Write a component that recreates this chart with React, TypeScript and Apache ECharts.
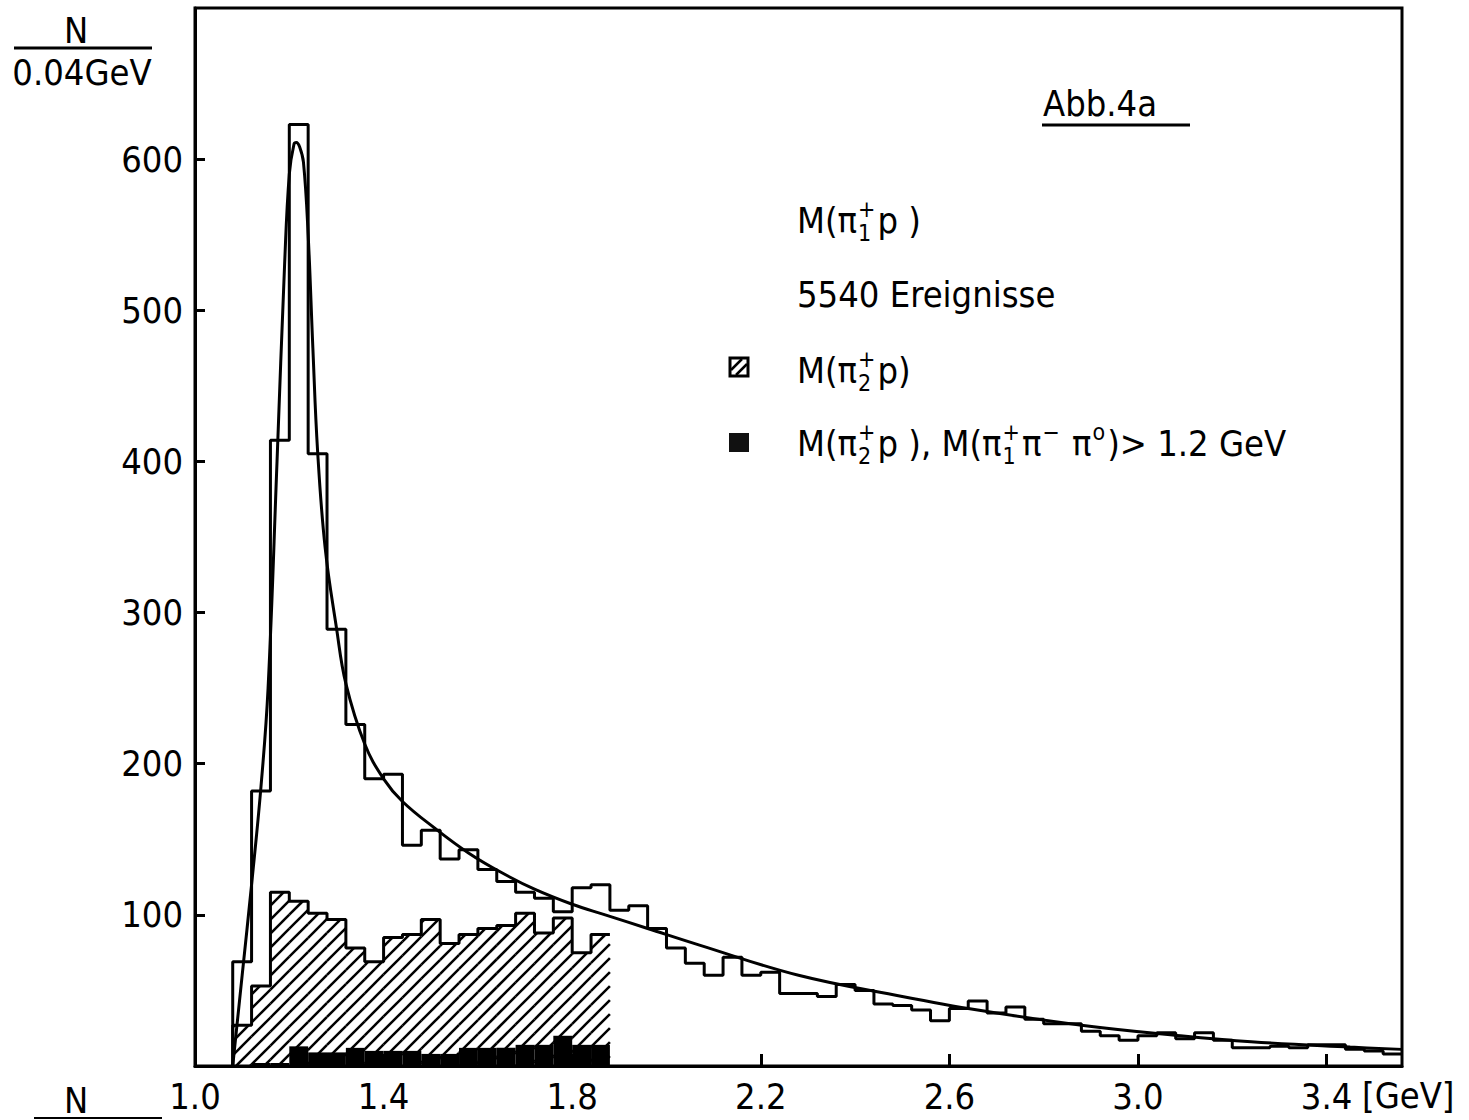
import React, { useEffect, useRef } from "react";
import * as echarts from "echarts";

// ---------- data ----------
const BIN_START = 1.08; // GeV
const BIN_WIDTH = 0.04; // GeV

// M(pi1+ p), all events, 1.08 .. 3.56 GeV
const totalCounts = [
  69, 182, 414, 623, 405, 289, 226, 190, 193, 146,
  156, 137, 143, 130, 122, 115, 111, 102, 118, 120,
  103, 106, 91, 78, 68, 60, 72, 60, 62, 48,
  48, 46, 54, 50, 41, 40, 37, 30, 38, 43,
  35, 39, 31, 28, 28, 23, 20, 17, 20, 22,
  18, 22, 17, 12, 12, 13, 12, 14, 14, 11,
  10, 8,
];

// M(pi2+ p), hatched, 1.08 .. 1.88 GeV
const hatchedCounts = [
  27, 53, 115, 109, 101, 97, 78, 69, 85, 87,
  97, 81, 87, 91, 93, 101, 88, 98, 75, 87,
];

// M(pi2+ p), M(pi1+ pi- pi0) > 1.2 GeV, black, 1.08 .. 1.88 GeV
const blackCounts = [
  0, 2, 2, 13, 9, 9, 12, 10, 10, 10,
  8, 8, 12, 12, 12, 14, 14, 20, 14, 14,
];

// fitted curve
const fitX = [
  1.08, 1.10, 1.12, 1.14, 1.155, 1.174, 1.19, 1.20, 1.21, 1.215,
  1.222, 1.23, 1.24, 1.25, 1.26, 1.276, 1.30, 1.32, 1.36, 1.40,
  1.44, 1.51, 1.58, 1.65, 1.72, 1.80, 1.87, 1.96, 2.07, 2.28,
  2.50, 2.66, 2.88, 3.09, 3.24, 3.45, 3.56,
];
const fitY = [
  0, 60, 120, 185, 250, 400, 530, 590, 610, 611,
  608, 598, 550, 475, 407, 343, 290, 253, 213, 190,
  175, 157, 141, 128, 117, 107, 100, 91, 80, 60,
  46, 37, 27, 20, 16, 12.5, 11,
];

const xLabelValues = [1.0, 1.4, 1.8, 2.2, 2.6, 3.0, 3.4];
const xTickValues = [1.4, 1.8, 2.2, 2.6, 3.0, 3.4];
const yLabelValues = [100, 200, 300, 400, 500, 600];

const X_MIN = 1.0;
const X_MAX = 3.56;
const Y_MAX = 700;

const FONT = '"DejaVu Sans Condensed", "Liberation Sans Narrow", "DejaVu Sans", sans-serif';
const MAIN = 36;
const SMALL = 23;

function edge(i: number) {
  return +(BIN_START + i * BIN_WIDTH).toFixed(2);
}

function stepPoints(counts: number[], closeRight: boolean) {
  const pts: number[][] = [[edge(0), 0]];
  counts.forEach((v, i) => {
    pts.push([edge(i), v]);
    pts.push([edge(i + 1), v]);
  });
  if (closeRight) pts.push([edge(counts.length), 0]);
  return pts;
}

let measureCtx: CanvasRenderingContext2D | null = null;
function measure(text: string, size: number) {
  if (!measureCtx) measureCtx = document.createElement("canvas").getContext("2d");
  measureCtx!.font = `${size}px ${FONT}`;
  return measureCtx!.measureText(text).width;
}

type Seg = string | { sup?: string; sub?: string };

function txt(text: string, x: number, y: number, size: number, align = "left") {
  return {
    type: "text",
    x,
    y,
    style: { text, fontSize: size, fontFamily: FONT, fill: "#000", align, verticalAlign: "middle" },
  };
}

function layoutLine(segs: Seg[], x: number, y: number) {
  const els: any[] = [];
  let cx = x;
  for (const s of segs) {
    if (typeof s === "string") {
      els.push(txt(s, cx, y, MAIN));
      cx += measure(s, MAIN);
    } else {
      let w = 0;
      if (s.sup) {
        els.push(txt(s.sup, cx + 1, y - 11, SMALL));
        w = Math.max(w, measure(s.sup, SMALL));
      }
      if (s.sub) {
        els.push(txt(s.sub, cx + 1, y + 13, SMALL));
        w = Math.max(w, measure(s.sub, SMALL));
      }
      cx += w + 3;
    }
  }
  return els;
}

export default function App() {
  const ref = useRef<HTMLDivElement>(null);

  useEffect(() => {
    document.body.style.margin = "0";
    const chart = echarts.init(ref.current!, null, { renderer: "svg" });

    const hatchData = hatchedCounts.map((v, i) => [edge(i), edge(i + 1), v]);
    const blackData = blackCounts.map((v, i) => [edge(i), edge(i + 1), v]);

    const graphics: any[] = [
      // top-left axis unit
      txt("N", 76, 30, MAIN, "center"),
      { type: "line", shape: { x1: 14, y1: 48, x2: 152, y2: 48 }, style: { stroke: "#000", lineWidth: 3 } },
      txt("0.04GeV", 82, 72, MAIN, "center"),
      // bottom-left remnant
      txt("N", 76, 1100, MAIN, "center"),
      { type: "line", shape: { x1: 34, y1: 1118, x2: 162, y2: 1118 }, style: { stroke: "#000", lineWidth: 2 } },
      // x unit
      txt("[GeV]", 1362, 1095, MAIN),
      // title
      txt("Abb.4a", 1043, 103, MAIN),
      { type: "line", shape: { x1: 1042, y1: 125, x2: 1190, y2: 125 }, style: { stroke: "#000", lineWidth: 3 } },
      // legend text
      ...layoutLine(["M(π", { sup: "+", sub: "1" }, "p )"], 797, 220),
      txt("5540 Ereignisse", 797, 294, MAIN),
      ...layoutLine(["M(π", { sup: "+", sub: "2" }, "p)"], 797, 370),
      ...layoutLine(
        ["M(π", { sup: "+", sub: "2" }, "p ), M(π", { sup: "+", sub: "1" }, "π", { sup: "−" }, " π", { sup: "o" }, ")> 1.2 GeV"],
        797,
        443
      ),
      // legend swatches
      { type: "rect", shape: { x: 730, y: 358, width: 18, height: 18 }, style: { fill: "#fff", stroke: "#000", lineWidth: 3 } },
      { type: "line", shape: { x1: 731, y1: 370, x2: 742, y2: 359 }, style: { stroke: "#000", lineWidth: 2.5 } },
      { type: "line", shape: { x1: 736, y1: 375, x2: 747, y2: 364 }, style: { stroke: "#000", lineWidth: 2.5 } },
      { type: "rect", shape: { x: 729, y: 433, width: 20, height: 19 }, style: { fill: "#111" } },
    ];

    const option: any = {
      animation: false,
      backgroundColor: "#fff",
      grid: {
        left: 195,
        right: 67,
        top: 8,
        bottom: 54,
        show: true,
        borderColor: "#000",
        borderWidth: 3,
        backgroundColor: "transparent",
      },
      xAxis: {
        type: "value",
        min: X_MIN,
        max: X_MAX,
        axisLine: { show: true, lineStyle: { color: "#000", width: 3 } },
        axisTick: { show: true, inside: true, length: 12, customValues: xTickValues, lineStyle: { color: "#000", width: 3 } },
        axisLabel: {
          customValues: xLabelValues,
          formatter: (v: number) => v.toFixed(1),
          color: "#000",
          fontSize: MAIN,
          fontFamily: FONT,
          margin: 12,
        },
        splitLine: { show: false },
      },
      yAxis: {
        type: "value",
        min: 0,
        max: Y_MAX,
        interval: 100,
        axisLine: { show: true, lineStyle: { color: "#000", width: 3 } },
        axisTick: { show: true, inside: true, length: 10, customValues: yLabelValues, lineStyle: { color: "#000", width: 3 } },
        axisLabel: {
          customValues: yLabelValues,
          formatter: (v: number) => String(v),
          color: "#000",
          fontSize: MAIN,
          fontFamily: FONT,
          margin: 12,
        },
        splitLine: { show: false },
      },
      series: [
        {
          type: "custom",
          name: "hatch",
          clip: true,
          data: hatchData,
          encode: { x: [0, 1], y: 2 },
          renderItem: (params: any, api: any) => {
            const p0 = api.coord([api.value(0), 0]);
            const p1 = api.coord([api.value(1), api.value(2)]);
            const left = p0[0];
            const right = p1[0];
            const bottom = p0[1];
            const top = p1[1];
            const S = 14;
            const children: any[] = [];
            const cMin = left + top;
            const cMax = right + bottom;
            for (let c = Math.ceil(cMin / S) * S; c <= cMax; c += S) {
              const xa = Math.max(left, c - bottom);
              const xb = Math.min(right, c - top);
              if (xb > xa) {
                children.push({
                  type: "line",
                  shape: { x1: xa, y1: c - xa, x2: xb, y2: c - xb },
                  style: { stroke: "#000", lineWidth: 2.5 },
                });
              }
            }
            return { type: "group", children };
          },
          z: 2,
        },
        {
          type: "custom",
          name: "black",
          clip: true,
          data: blackData,
          encode: { x: [0, 1], y: 2 },
          renderItem: (params: any, api: any) => {
            const p0 = api.coord([api.value(0), 0]);
            const p1 = api.coord([api.value(1), api.value(2)]);
            return {
              type: "rect",
              shape: { x: p0[0], y: p1[1], width: p1[0] - p0[0], height: p0[1] - p1[1] },
              style: { fill: "#000" },
            };
          },
          z: 3,
        },
        {
          type: "line",
          name: "hatched outline",
          data: stepPoints(hatchedCounts, false),
          showSymbol: false,
          lineStyle: { color: "#000", width: 3 },
          z: 4,
        },
        {
          type: "line",
          name: "total",
          data: stepPoints(totalCounts, false),
          showSymbol: false,
          lineStyle: { color: "#000", width: 3 },
          z: 5,
        },
        {
          type: "line",
          name: "fit",
          data: fitX.map((x, i) => [x, fitY[i]]),
          smooth: 0.4,
          showSymbol: false,
          lineStyle: { color: "#000", width: 3 },
          z: 6,
        },
      ],
      graphic: graphics,
    };

    chart.setOption(option);
    return () => chart.dispose();
  }, []);

  return <div ref={ref} style={{ width: 1469, height: 1120 }} />;
}
